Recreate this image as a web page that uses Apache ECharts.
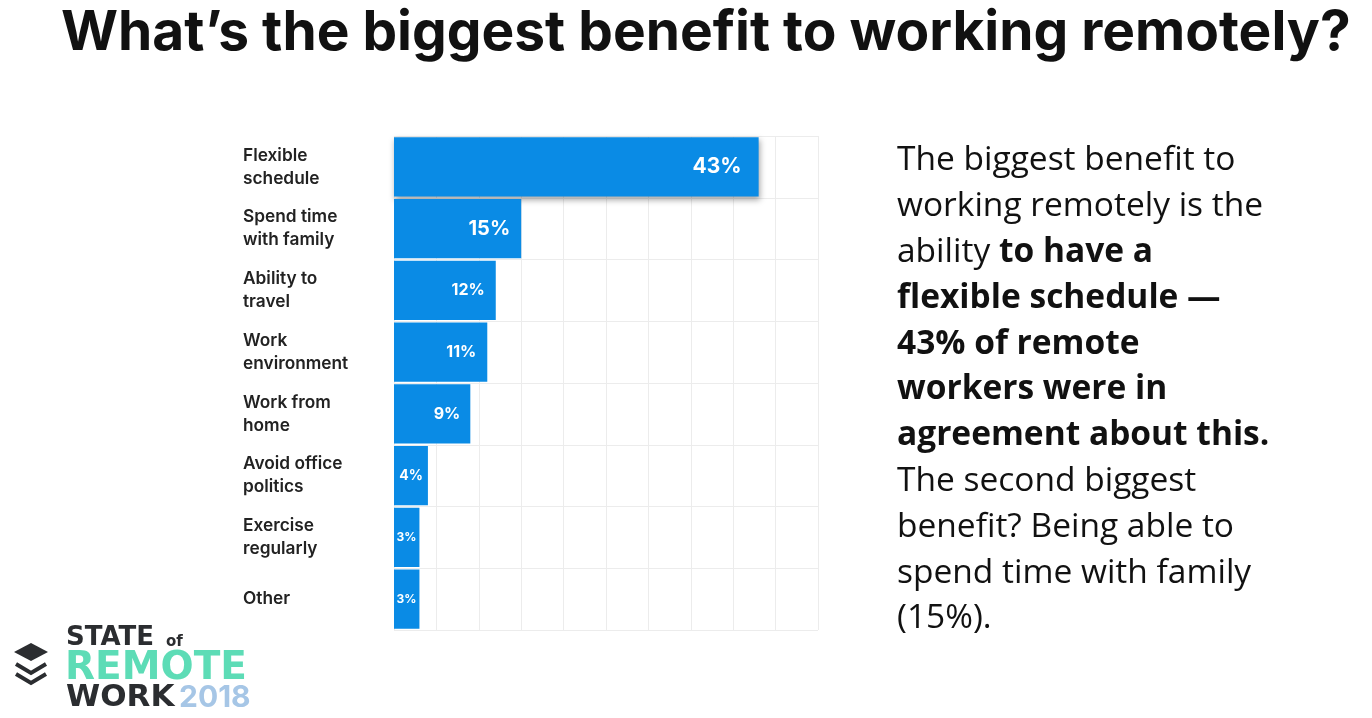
<!DOCTYPE html>
<html><head><meta charset="utf-8">
<script src="https://cdn.jsdelivr.net/npm/echarts@6/dist/echarts.min.js"></script>
<style>html,body{margin:0;padding:0;background:#fff}#c{width:1372px;height:718px}</style>
</head><body><div id="c"></div>
<script>
const categories = ["Flexible\nschedule","Spend time\nwith family","Ability to\ntravel","Work\nenvironment","Work from\nhome","Avoid office\npolitics","Exercise\nregularly","Other"];
const values = [43, 15, 12, 11, 9, 4, 3, 3];
const labelSizes = [21, 20, 16, 16, 16, 14, 12, 12];
const labelDist = [17, 11, 11, 11, 10, 5, 3, 3];

const chart = echarts.init(document.getElementById('c'), null, {renderer:'canvas'});
const data = values.map((v,i)=>({
  value: v,
  label: {fontSize: labelSizes[i], distance: labelDist[i]},
  itemStyle: i===0 ? {shadowBlur: 6, shadowColor: 'rgba(0,0,0,0.35)', shadowOffsetX: 1, shadowOffsetY: 3} : {}
}));

const bodyFont = '"Open Sans", sans-serif';
const logoFont = '"DejaVu Sans", sans-serif';
chart.setOption({
  animation:false,
  grid: {left: 394, right: 554, top: 136, bottom: 88},
  xAxis: {type:'value', min:0, max:50, interval:5,
    axisLabel:{show:false}, axisLine:{show:false}, axisTick:{show:false},
    splitLine:{show:true, lineStyle:{color:'#ececec', width:1}}},
  yAxis: {type:'category', data: categories, inverse:true,
    axisLine:{show:false}, axisTick:{show:false},
    splitLine:{show:true, lineStyle:{color:'#ececec', width:1}},
    axisLabel:{align:'left', margin:151, fontFamily:'Inter, sans-serif', fontWeight:600, fontSize:17.3, lineHeight:23, color:'#222', padding:[0,0,12,0]}},
  series: [{
    type:'bar', data: data, barCategoryGap:'4%',
    itemStyle:{color:'#0a8be5'},
    label:{show:true, position:'insideRight', color:'#fff', fontFamily:'Inter, sans-serif', fontWeight:700, formatter: p => p.value + '%'}
  }],
  graphic: [
    {type:'text', x: 61, y: 33, style:{
      text: "What\u2019s the biggest benefit to working remotely?",
      font: '700 55px Inter, sans-serif', fill:'#111', verticalAlign:'middle'
    }},
    {type:'text', left: 897, top: 138, style:{
      text: ["The biggest benefit to","working remotely is the","ability {b|to have a}","{b|flexible schedule \u2014}","{b|43% of remote}","{b|workers were in}","{b|agreement about this.}","The second biggest","benefit? Being able to","spend time with family","(15%)."].join('\n'),
      font: '33.5px ' + bodyFont, fill:'#111', lineHeight: 45.8,
      rich: {b: {fontFamily: bodyFont, fontWeight: 'bold', fontSize: 33.5, lineHeight: 45.8, fill:'#111'}}
    }},
    // logo icon
    {type:'polygon', shape:{points:[[31,643],[48,652],[31,661],[14,652]]}, style:{fill:'#2b2d30'}},
    {type:'polyline', shape:{points:[[16,664],[31,673],[46,664]]}, style:{stroke:'#2b2d30', lineWidth:4, fill:null}},
    {type:'polyline', shape:{points:[[16,674],[31,683],[46,674]]}, style:{stroke:'#2b2d30', lineWidth:4, fill:null}},
    {type:'text', x: 66, y: 638, style:{text:'STATE', font:'bold 26px ' + logoFont, fill:'#2b2d30', verticalAlign:'middle'}},
    {type:'text', x: 166, y: 642, style:{text:'of', font:'bold 15px ' + logoFont, fill:'#2b2d30', verticalAlign:'middle'}},
    {type:'text', x: 65, y: 669, style:{text:'REMOTE', font:'bold 39px ' + logoFont, fill:'#5ddcb6', verticalAlign:'middle'}},
    {type:'text', x: 66, y: 698, style:{text:'WORK', font:'bold 31px ' + logoFont, fill:'#2b2d30', verticalAlign:'middle'}},
    {type:'text', x: 179, y: 698, style:{text:'2018', font:'700 30px Inter, sans-serif', fill:'#a6c6e6', verticalAlign:'middle'}}
  ]
});
</script></body></html>
